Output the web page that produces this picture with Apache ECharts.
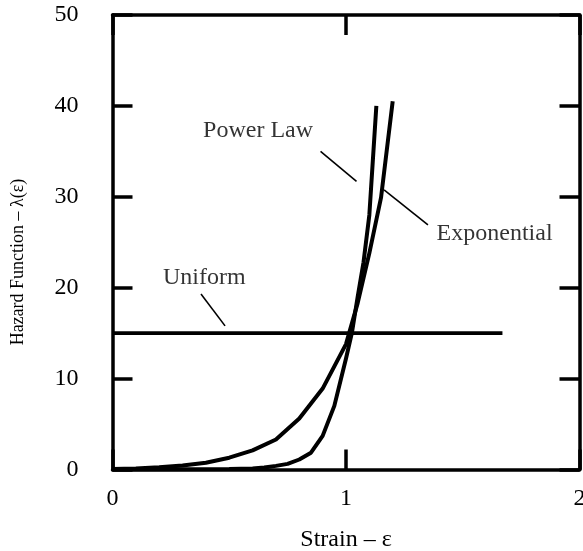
<!DOCTYPE html>
<html>
<head>
<meta charset="utf-8">
<script src="https://cdn.jsdelivr.net/npm/echarts@6/dist/echarts.min.js"></script>
<style>
  html, body { margin: 0; padding: 0; background: #fff; }
  #chart { width: 583px; height: 551px; }
</style>
</head>
<body>
<div id="chart"></div>
<script>
// Hazard function curves vs. strain
const strainTicks = [0, 1, 2];
const hazardTicks = [0, 10, 20, 30, 40, 50];

const uniformStrain = [0, 1.67];
const uniformHazard = [15, 15];

const exponentialStrain = [0, 0.1, 0.2, 0.3, 0.4, 0.5, 0.6, 0.7, 0.8, 0.9, 1.0, 1.05, 1.1, 1.15, 1.2];
const exponentialHazard = [0.05, 0.12, 0.25, 0.45, 0.75, 1.3, 2.1, 3.3, 5.6, 8.9, 13.8, 18.3, 23.8, 29.9, 40.5];

const powerLawStrain = [0, 0.5, 0.6, 0.65, 0.7, 0.75, 0.8, 0.85, 0.9, 0.95, 1.0, 1.025, 1.05, 1.075, 1.1, 1.13];
const powerLawHazard = [0, 0.05, 0.12, 0.22, 0.4, 0.62, 1.1, 1.85, 3.7, 7.0, 12.2, 15, 19, 22.8, 28, 40];

// curve labels and their pointer lines, in strain / hazard units
const labelNames = ['Power Law', 'Exponential', 'Uniform'];
const labelStrain = [0.388, 1.388, 0.216];
const labelHazard = [37.3, 25.9, 21.1];
const pointerFrom = [[0.891, 35.0], [1.163, 30.75], [0.379, 19.3]];
const pointerTo = [[1.045, 31.7], [1.351, 26.9], [0.482, 15.8]];

const FONT = '"Liberation Serif", "Times New Roman", serif';
const INK = '#000';

const pairs = (xs, ys) => xs.map((x, i) => [x, ys[i]]);

const frameAxis = (extra) => Object.assign({
  type: 'value',
  axisLine: { show: true, onZero: false, lineStyle: { color: INK, width: 3.5 } },
  axisTick: { show: true, inside: true, length: 20, lineStyle: { color: INK, width: 3.5 } },
  splitLine: { show: false },
  axisLabel: { show: false }
}, extra);

const tickLabel = (margin) => ({
  show: true, color: INK, fontFamily: FONT, fontSize: 24, margin: margin
});

const curve = (name, data, width) => ({
  name: name,
  type: 'line',
  data: data,
  showSymbol: false,
  symbol: 'none',
  smooth: false,
  silent: true,
  lineStyle: { color: INK, width: width, cap: 'butt', join: 'round' },
  z: 3
});

const series = [
  curve('Uniform', pairs(uniformStrain, uniformHazard), 3.8),
  curve('Exponential', pairs(exponentialStrain, exponentialHazard), 4),
  curve('Power Law', pairs(powerLawStrain, powerLawHazard), 4)
];

pointerFrom.forEach((p, i) => {
  series.push(curve('pointer' + i, [p, pointerTo[i]], 1.6));
});

series.push({
  type: 'scatter',
  symbolSize: 0,
  silent: true,
  data: labelNames.map((n, i) => ({ name: n, value: [labelStrain[i], labelHazard[i]] })),
  label: {
    show: true, position: 'right', distance: 0, formatter: '{b}',
    color: INK, fontFamily: FONT, fontSize: 24
  }
});

const chart = echarts.init(document.getElementById('chart'), null, { renderer: 'canvas' });
chart.setOption({
  animation: false,
  backgroundColor: '#fff',
  grid: {
    left: 112.5, right: 3.5, top: 15, bottom: 81.5,
    containLabel: false, outerBoundsMode: 'none'
  },
  xAxis: [
    frameAxis({
      position: 'bottom', min: strainTicks[0], max: strainTicks[strainTicks.length - 1], interval: 1,
      axisLabel: tickLabel(17),
      name: 'Strain – ε', nameLocation: 'middle', nameGap: 58,
      nameTextStyle: { color: INK, fontFamily: FONT, fontSize: 24 }
    }),
    frameAxis({ position: 'top', min: strainTicks[0], max: strainTicks[strainTicks.length - 1], interval: 1 })
  ],
  yAxis: [
    frameAxis({
      position: 'left', min: hazardTicks[0], max: hazardTicks[hazardTicks.length - 1], interval: 10,
      axisLabel: tickLabel(34)
    }),
    frameAxis({ position: 'right', min: hazardTicks[0], max: hazardTicks[hazardTicks.length - 1], interval: 10 })
  ],
  graphic: [{
    type: 'text',
    x: 18, y: 262,
    rotation: Math.PI / 2,
    style: {
      text: 'Hazard Function – λ(ε)',
      fill: INK, font: '18px ' + FONT,
      align: 'center', verticalAlign: 'middle'
    }
  }],
  series: series
});
</script>
</body>
</html>
